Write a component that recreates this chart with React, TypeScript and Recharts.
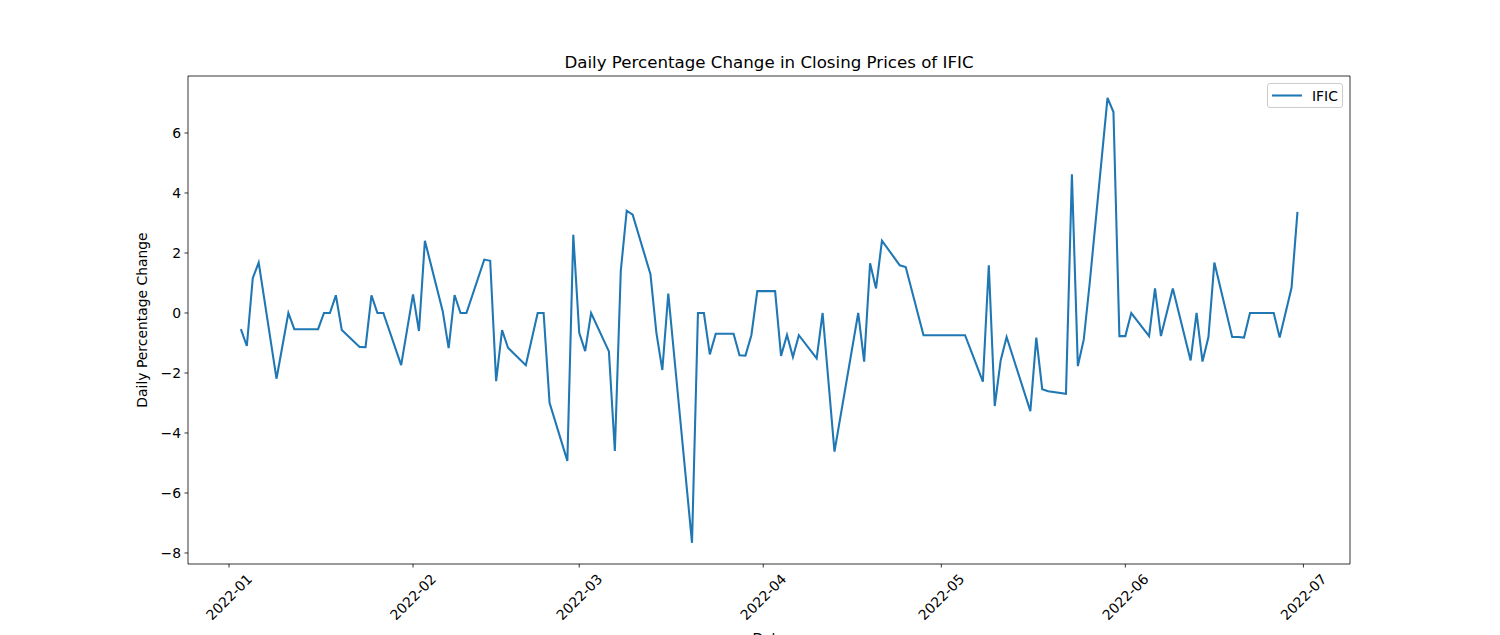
import { LineChart, Line, XAxis, YAxis, ReferenceArea, Legend } from "recharts";

// trading days (pct change of close)
const dates = [
  "2022-01-03", "2022-01-04", "2022-01-05", "2022-01-06", "2022-01-09",
  "2022-01-11", "2022-01-12", "2022-01-13", "2022-01-16", "2022-01-17",
  "2022-01-18", "2022-01-19", "2022-01-20", "2022-01-23", "2022-01-24",
  "2022-01-25", "2022-01-26", "2022-01-27", "2022-01-30", "2022-02-01",
  "2022-02-02", "2022-02-03", "2022-02-06", "2022-02-07", "2022-02-08",
  "2022-02-09", "2022-02-10", "2022-02-13", "2022-02-14", "2022-02-15",
  "2022-02-16", "2022-02-17", "2022-02-20", "2022-02-22", "2022-02-23",
  "2022-02-24", "2022-02-27", "2022-02-28", "2022-03-01", "2022-03-02",
  "2022-03-03", "2022-03-06", "2022-03-07", "2022-03-08", "2022-03-09",
  "2022-03-10", "2022-03-13", "2022-03-14", "2022-03-15", "2022-03-16",
  "2022-03-20", "2022-03-21", "2022-03-22", "2022-03-23", "2022-03-24",
  "2022-03-27", "2022-03-28", "2022-03-29", "2022-03-30", "2022-03-31",
  "2022-04-03", "2022-04-04", "2022-04-05", "2022-04-06", "2022-04-07",
  "2022-04-10", "2022-04-11", "2022-04-13", "2022-04-17", "2022-04-18",
  "2022-04-19", "2022-04-20", "2022-04-21", "2022-04-24", "2022-04-25",
  "2022-04-28", "2022-05-05", "2022-05-08", "2022-05-09", "2022-05-10",
  "2022-05-11", "2022-05-12", "2022-05-16", "2022-05-17", "2022-05-18",
  "2022-05-19", "2022-05-22", "2022-05-23", "2022-05-24", "2022-05-25",
  "2022-05-26", "2022-05-29", "2022-05-30", "2022-05-31", "2022-06-01",
  "2022-06-02", "2022-06-05", "2022-06-06", "2022-06-07", "2022-06-09",
  "2022-06-12", "2022-06-13", "2022-06-14", "2022-06-15", "2022-06-16",
  "2022-06-19", "2022-06-20", "2022-06-21", "2022-06-22", "2022-06-23",
  "2022-06-26", "2022-06-27", "2022-06-29", "2022-06-30",
];

const ificChange = [
  -0.54, -1.1, 1.16, 1.68, -2.19,
  0.0, -0.54, -0.54, -0.54, 0.0,
  0.0, 0.59, -0.57, -1.13, -1.14,
  0.59, 0.0, 0.0, -1.74, 0.62,
  -0.6, 2.41, 0.06, -1.17, 0.6,
  0.0, 0.0, 1.78, 1.74, -2.27,
  -0.57, -1.16, -1.74, 0.0, 0.0,
  -2.99, -4.93, 2.61, -0.66, -1.27,
  0.0, -1.28, -4.6, 1.4, 3.41,
  3.28, 1.29, -0.66, -1.9, 0.65,
  -7.66, 0.0, 0.0, -1.38, -0.69,
  -0.69, -1.41, -1.42, -0.74, 0.73,
  0.73, -1.43, -0.73, -1.47, -0.74,
  -1.51, 0.0, -4.62, 0.0, -1.62,
  1.66, 0.82, 2.41, 1.59, 1.53,
  -0.74, -0.74, -2.29, 1.59, -3.1,
  -1.58, -0.8, -3.27, -0.82, -2.54,
  -2.61, -2.69, 4.62, -1.77, -0.88,
  1.0, 7.17, 6.7, -0.77, -0.77,
  0.0, -0.77, 0.82, -0.77, 0.82,
  -1.58, 0.0, -1.62, -0.8, 1.68,
  -0.8, -0.8, -0.82, 0.0, 0.0,
  0.0, -0.82, 0.84, 3.37,
];

const tickDates = [
  "2022-01-01", "2022-02-01", "2022-03-01", "2022-04-01",
  "2022-05-01", "2022-06-01", "2022-07-01",
];
const tickLabels = ["2022-01", "2022-02", "2022-03", "2022-04", "2022-05", "2022-06", "2022-07"];
const yTicks = [-8, -6, -4, -2, 0, 2, 4, 6];

const FONT = "'DejaVu Sans', sans-serif";
const BLUE = "#1f77b4";
const X_DOMAIN: [number, number] = [-6.91, 188.85];
const Y_DOMAIN: [number, number] = [-8.367, 7.9];

const ORIGIN = Date.parse("2022-01-01");
const dayOf = (d: string) => (Date.parse(d) - ORIGIN) / 86400000;

const data = dates.map((d, i) => ({ day: dayOf(d), date: d, IFIC: ificChange[i] }));
const tickDays = tickDates.map(dayOf);

function DateTick(props: any) {
  const { x, y, payload } = props;
  const idx = tickDays.indexOf(payload.value);
  const cy = y + 26;
  return (
    <text
      x={x}
      y={cy}
      transform={`rotate(-45, ${x}, ${cy})`}
      textAnchor="middle"
      dominantBaseline="central"
      fontFamily={FONT}
      fontSize={13.9}
      fill="#000"
    >
      {tickLabels[idx] ?? ""}
    </text>
  );
}

function LegendBox(props: any) {
  const name = props.payload?.[0]?.value ?? "IFIC";
  return (
    <svg width={77} height={26} style={{ display: "block" }}>
      <rect x={0.5} y={0.5} width={75} height={24} rx={2.5} fill="#fff" fillOpacity={0.8} stroke="#cccccc" />
      <line x1={5} x2={35} y1={12.5} y2={12.5} stroke={BLUE} strokeWidth={2.08} />
      <text x={45} y={17.5} fontFamily={FONT} fontSize={13.9} fill="#000">
        {name}
      </text>
    </svg>
  );
}

export default function App() {
  return (
    <div style={{ position: "absolute", left: 0, top: 0, width: 1500, height: 635, overflow: "hidden", background: "#fff" }}>
      <LineChart width={1500} height={635} data={data} margin={{ top: 76, right: 150, bottom: 0, left: 0 }}>
        <XAxis
          type="number"
          dataKey="day"
          domain={X_DOMAIN}
          ticks={tickDays}
          interval={0}
          allowDataOverflow
          axisLine={false}
          tickSize={3.5}
          tickMargin={3.5}
          tickLine={{ stroke: "#000", strokeWidth: 0.8 }}
          tick={<DateTick />}
          height={71}
        />
        <YAxis
          type="number"
          domain={Y_DOMAIN}
          ticks={yTicks}
          interval={0}
          allowDataOverflow
          axisLine={false}
          width={188}
          tickSize={3.5}
          tickMargin={3.5}
          tickLine={{ stroke: "#000", strokeWidth: 0.8 }}
          tick={{ fill: "#000", fontSize: 13.9, fontFamily: FONT }}
          tickFormatter={(v: number) => (v < 0 ? `\u2212${-v}` : `${v}`)}
        />
        <ReferenceArea
          x1={X_DOMAIN[0]}
          x2={X_DOMAIN[1]}
          y1={Y_DOMAIN[0]}
          y2={Y_DOMAIN[1]}
          fill="none"
          stroke="#000"
          strokeWidth={0.8}
        />
        <Line
          type="linear"
          dataKey="IFIC"
          name="IFIC"
          stroke={BLUE}
          strokeWidth={2.08}
          dot={false}
          activeDot={false}
          isAnimationActive={false}
        />
        <Legend
          layout="vertical"
          align="center"
          verticalAlign="middle"
          content={<LegendBox />}
          wrapperStyle={{ left: 1267, top: 83, width: 77, height: 26 }}
        />
      </LineChart>
      <svg width={1500} height={635} style={{ position: "absolute", left: 0, top: 0, pointerEvents: "none" }}>
        <text x={769} y={68} textAnchor="middle" fontFamily={FONT} fontSize={16.67} fill="#000">
          Daily Percentage Change in Closing Prices of IFIC
        </text>
        <text
          x={147}
          y={320}
          transform="rotate(-90, 147, 320)"
          textAnchor="middle"
          fontFamily={FONT}
          fontSize={13.9}
          fill="#000"
        >
          Daily Percentage Change
        </text>
        <text x={769} y={643} textAnchor="middle" fontFamily={FONT} fontSize={13.9} fill="#000">
          Date
        </text>
      </svg>
    </div>
  );
}
